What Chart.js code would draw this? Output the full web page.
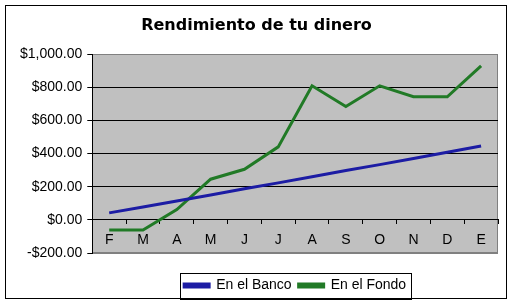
<!DOCTYPE html>
<html>
<head>
<meta charset="utf-8">
<script src="https://cdn.jsdelivr.net/npm/chart.js@4/dist/chart.umd.min.js"></script>
<style>
  body { margin: 0; background: #fff; }
  #wrap { position: relative; width: 513px; height: 306px; }
  #frame { position: absolute; left: 5px; top: 5px; width: 502px; height: 294px; border: 1px solid #000; box-sizing: border-box; pointer-events: none; }
  canvas { position: absolute; left: 0; top: 0; }
</style>
</head>
<body>
<div id="wrap">
  <canvas id="myChart" width="513" height="306"></canvas>
  <div id="frame"></div>
</div>
<script>
'use strict';
// Data
const months = ['F', 'M', 'A', 'M', 'J', 'J', 'A', 'S', 'O', 'N', 'D', 'E'];
const enElBanco = [42, 78, 114, 150, 187, 223, 260, 297, 333, 370, 407, 445];
const enElFondo = [-62, -62, 62, 245, 305, 440, 808, 683, 808, 742, 742, 928];
const yTicks = [-200, 0, 200, 400, 600, 800, 1000];

const FONT = "'Liberation Sans', Arial, sans-serif";

// grey plot area + border
const plotBackground = {
  id: 'plotBackground',
  beforeDraw(chart){
    const a = chart.chartArea;
    const ctx = chart.ctx;
    ctx.save();
    ctx.fillStyle = '#c0c0c0';
    ctx.fillRect(a.left, a.top, a.right - a.left, a.bottom - a.top);
    ctx.strokeStyle = '#808080';
    ctx.lineWidth = 1;
    ctx.strokeRect(Math.round(a.left) + 0.5, Math.round(a.top) + 0.5, Math.round(a.right - a.left) - 1, Math.round(a.bottom - a.top) - 1);
    ctx.restore();
  }
};

// box round the legend
const legendFrame = {
  id: 'legendFrame',
  afterDraw(chart){
    const boxes = chart.legend.legendHitBoxes;
    if (!boxes || !boxes.length) return;
    const first = boxes[0];
    const last = boxes[boxes.length - 1];
    const ctx = chart.ctx;
    const left = Math.round(first.left - 4) + 0.5;
    const right = Math.round(last.left + last.width + 5) + 0.5;
    const top = Math.round(first.top - 6) + 0.5;
    const bottom = Math.round(first.top + first.height + 6) + 0.5;
    ctx.save();
    ctx.strokeStyle = '#000';
    ctx.lineWidth = 1;
    ctx.strokeRect(left, top, right - left, bottom - top);
    ctx.restore();
  }
};

const chart_myChart = document.getElementById('myChart').getContext('2d');
const chart = new Chart(chart_myChart, {
  type: 'line',
  data: {
    labels: months,
    datasets: [{
      label: 'En el Banco',
      data: enElBanco,
      borderColor: '#1c1ca4',
      backgroundColor: '#1c1ca4',
      borderWidth: 3,
      pointRadius: 0,
      tension: 0
    },
    {
      label: 'En el Fondo',
      data: enElFondo,
      borderColor: '#217a26',
      backgroundColor: '#217a26',
      borderWidth: 3,
      pointRadius: 0,
      tension: 0
    }]
  },
  options: {
    responsive: false,
    animation: false,
    layout: { padding: { left: 15, right: 15, top: 6, bottom: 3.5 } },
    plugins: {
      title: {
        display: true,
        text: 'Rendimiento de tu dinero',
        color: '#000',
        font: { family: "'DejaVu Sans', Verdana, sans-serif", size: 16, weight: 'bold' },
        padding: { top: 10, bottom: 18.8 }
      },
      legend: {
        position: 'bottom',
        fullSize: false,
        title: { display: true, text: '', font: { size: 1, lineHeight: 1 }, padding: { top: 17.5, bottom: 0 } },
        labels: {
          color: '#000',
          font: { family: FONT, size: 14 },
          boxWidth: 25,
          boxHeight: 3,
          padding: 7
        }
      },
      tooltip: { enabled: false }
    },
    scales: {
      x: {
        position: { y: 0 },
        offset: true,
        border: { color: '#000', width: 1 },
        grid: { offset: true, drawOnChartArea: false, drawTicks: true, tickLength: 4, color: '#000' },
        ticks: { color: '#000', font: { family: FONT, size: 14 }, padding: 8, maxRotation: 0, autoSkip: false }
      },
      y: {
        min: -200,
        max: 1000,
        afterBuildTicks(scale){
          scale.ticks = yTicks.map(v => ({ value: v }));
        },
        border: { color: '#000', width: 1 },
        grid: {
          color: c => (c.tick && (c.tick.value === 1000 || c.tick.value === -200)) ? '#808080' : '#000',
          tickColor: '#000',
          tickLength: 5
        },
        ticks: {
          color: '#000',
          font: { family: FONT, size: 14 },
          padding: 5,
          callback: v => v.toLocaleString('en-US', { style: 'currency', currency: 'USD' })
        }
      }
    }
  },
  plugins: [plotBackground, legendFrame]
});
</script>
</body>
</html>
